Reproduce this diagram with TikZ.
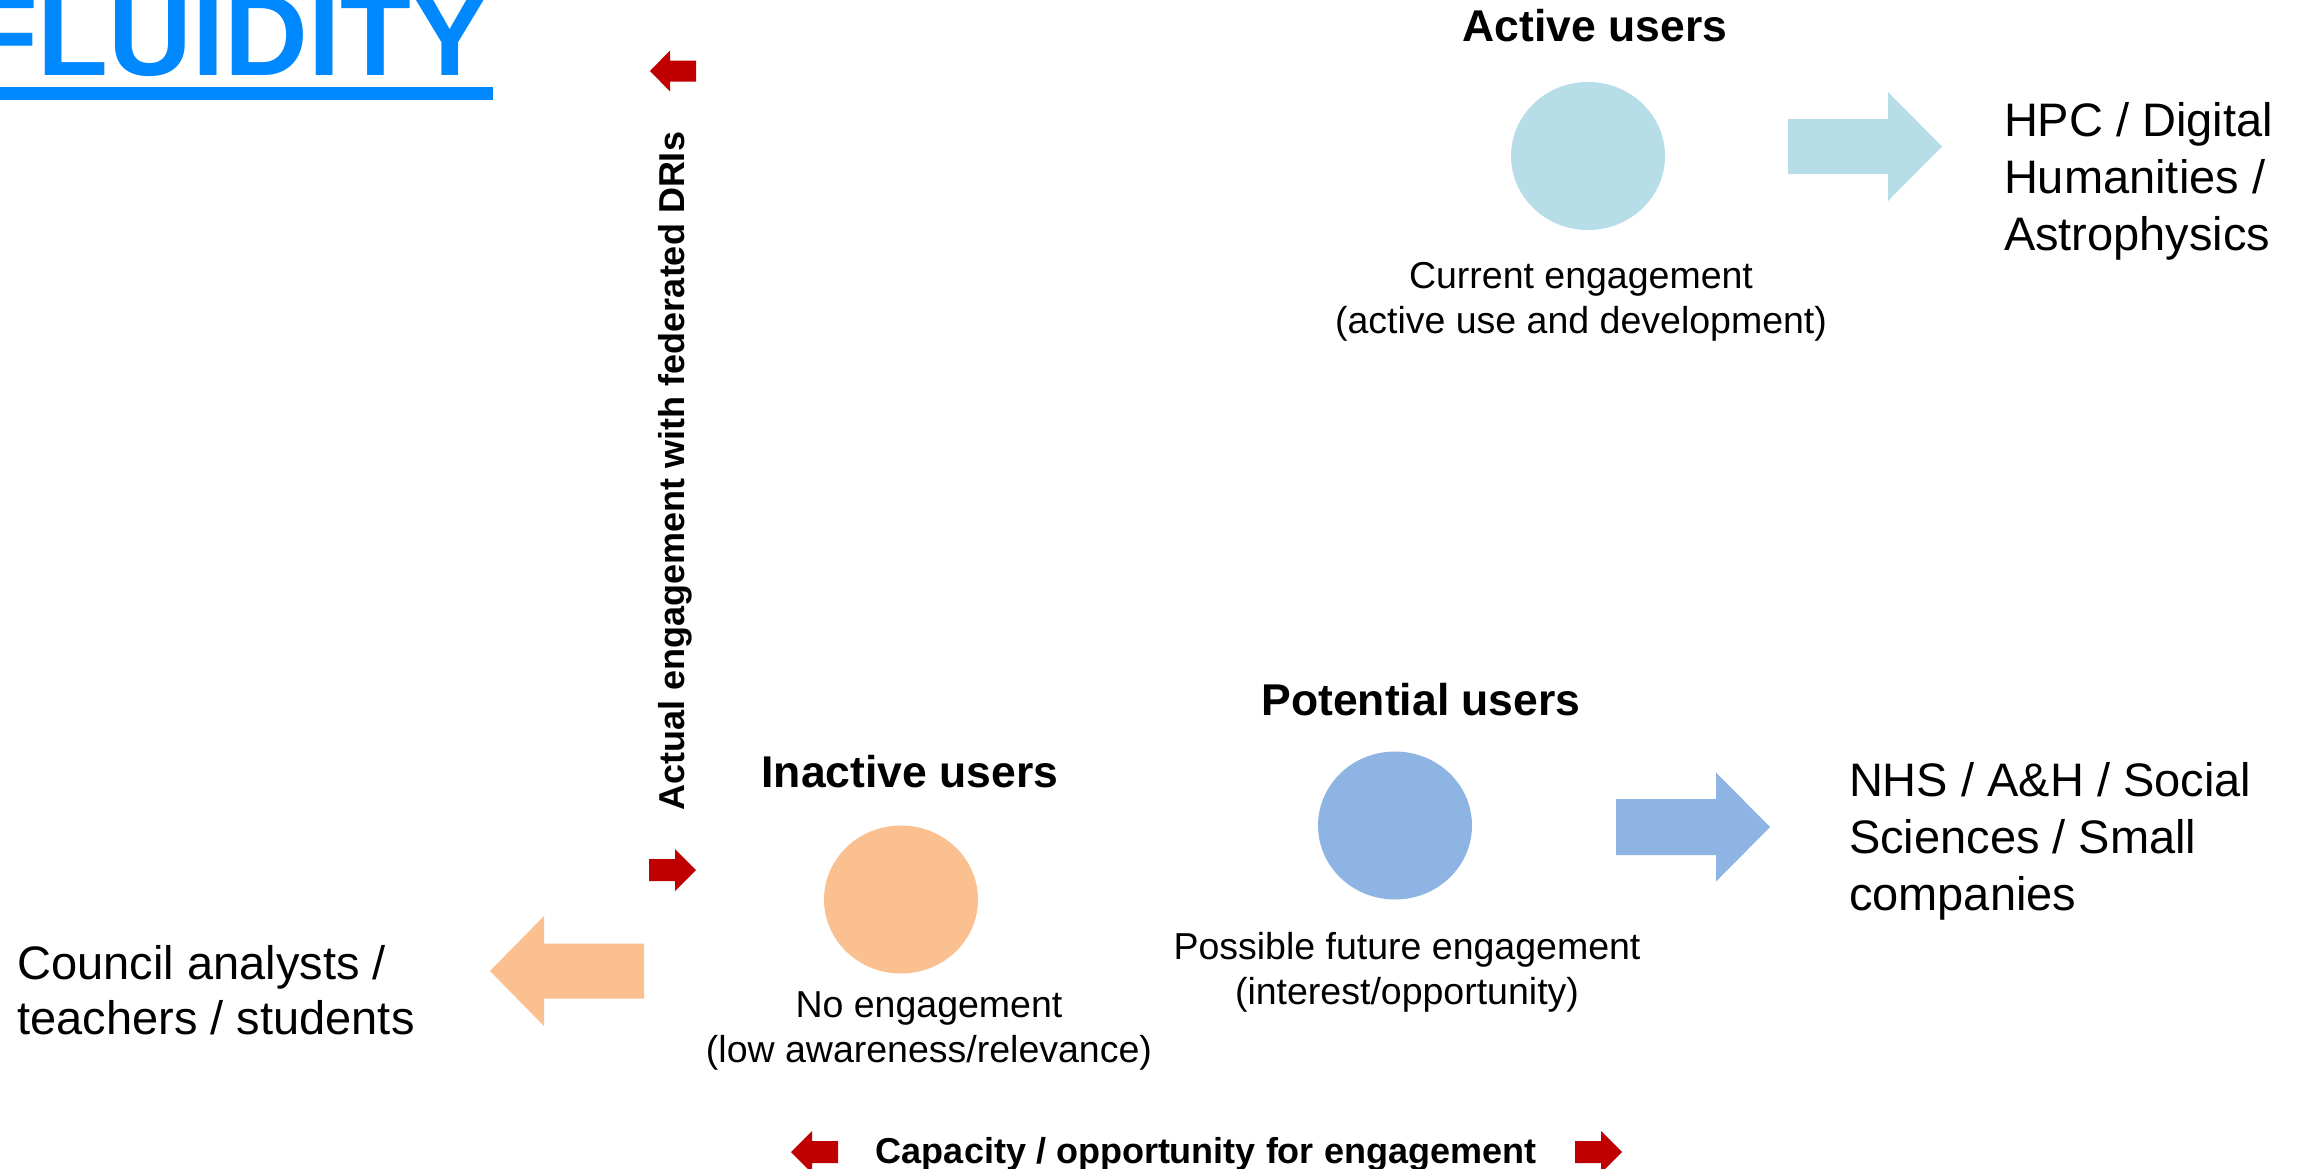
\documentclass[tikz,border=0pt]{standalone}
\usepackage{fontspec}
\setmainfont{Liberation Sans}
\usetikzlibrary{shapes.geometric}
\definecolor{titleblue}{HTML}{0088FF}
\definecolor{actblue}{HTML}{B7DEE8}
\definecolor{potblue}{HTML}{8EB4E3}
\definecolor{inorange}{HTML}{FAC090}
\definecolor{axisred}{HTML}{C00000}
% colour, tail x, head-base x, tip x, centre y, shaft half-height, head half-height
\newcommand\myblockarrow[7]{%
  \fill[#1] (#2,#5-#6) -- (#3,#5-#6) -- (#3,#5-#7) -- (#4,#5) -- (#3,#5+#7)
    -- (#3,#5+#6) -- (#2,#5+#6) -- cycle;}
\begin{document}
\begin{tikzpicture}[x=1pt,y=-1pt,
  every node/.style={inner sep=0pt, outer sep=0pt},
  heading/.style={font=\bfseries\fontsize{44.5}{53}\selectfont, anchor=base},
  desc/.style={font=\fontsize{37.5}{44.5}\selectfont, align=center, anchor=base},
  group/.style={font=\fontsize{47}{57}\selectfont, align=left, anchor=base west},
  axislabel/.style={font=\bfseries\fontsize{36}{43}\selectfont, anchor=base},
  blob/.style={ellipse, minimum width=154pt, minimum height=148pt}]
\useasboundingbox (0,0) rectangle (2307,1168);
\fill[white] (0,0) rectangle (2307,1168);

% title
\node[font=\bfseries\fontsize{116}{130}\selectfont, text=titleblue, anchor=base east] (title) at (489,75) {FLUIDITY};
\fill[titleblue] (0,87) rectangle (493,100);

% axes
\node[axislabel, rotate=90] (vaxis) at (684,471) {Actual engagement with federated DRIs};
\node[axislabel] (haxis) at (1206,1163) {Capacity / opportunity for engagement};
\myblockarrow{axisred}{696}{670}{650}{71}{10.5}{20.5}
\myblockarrow{axisred}{649}{675}{696}{870}{11}{21}
\myblockarrow{axisred}{838}{812}{791}{1152}{11}{21}
\myblockarrow{axisred}{1575}{1601}{1622}{1152}{11}{21}

% active users (multi-line nodes: base anchor = baseline of last line)
\node[heading] (activeH) at (1595,41) {Active users};
\node[blob, fill=actblue] (activeC) at (1588,156) {};
\node[desc] (activeL) at (1581,333) {Current engagement\\(active use and development)};
\myblockarrow{actblue}{1788}{1888}{1942}{146.5}{27.5}{54.5}
\node[group] (activeG) at (2004,250) {HPC / Digital\\Humanities /\\Astrophysics};

% potential users
\node[heading] (potH) at (1421,715) {Potential users};
\node[blob, fill=potblue] (potC) at (1395,825.5) {};
\node[desc] (potL) at (1407,1004) {Possible future engagement\\(interest/opportunity)};
\myblockarrow{potblue}{1616}{1716}{1770}{827}{28}{54.5}
\node[group] (potG) at (1849,910) {NHS / A\&H / Social\\Sciences / Small\\companies};

% inactive users
\node[heading] (inH) at (910,787) {Inactive users};
\node[blob, fill=inorange] (inC) at (901,899.5) {};
\node[desc] (inL) at (929,1062) {No engagement\\(low awareness/relevance)};
\myblockarrow{inorange}{644}{544}{490}{971}{27.5}{55}
\node[font=\fontsize{47}{55}\selectfont, align=left, anchor=base west] (inG) at (17.5,1034) {Council analysts /\\teachers / students};
\end{tikzpicture}
\end{document}
